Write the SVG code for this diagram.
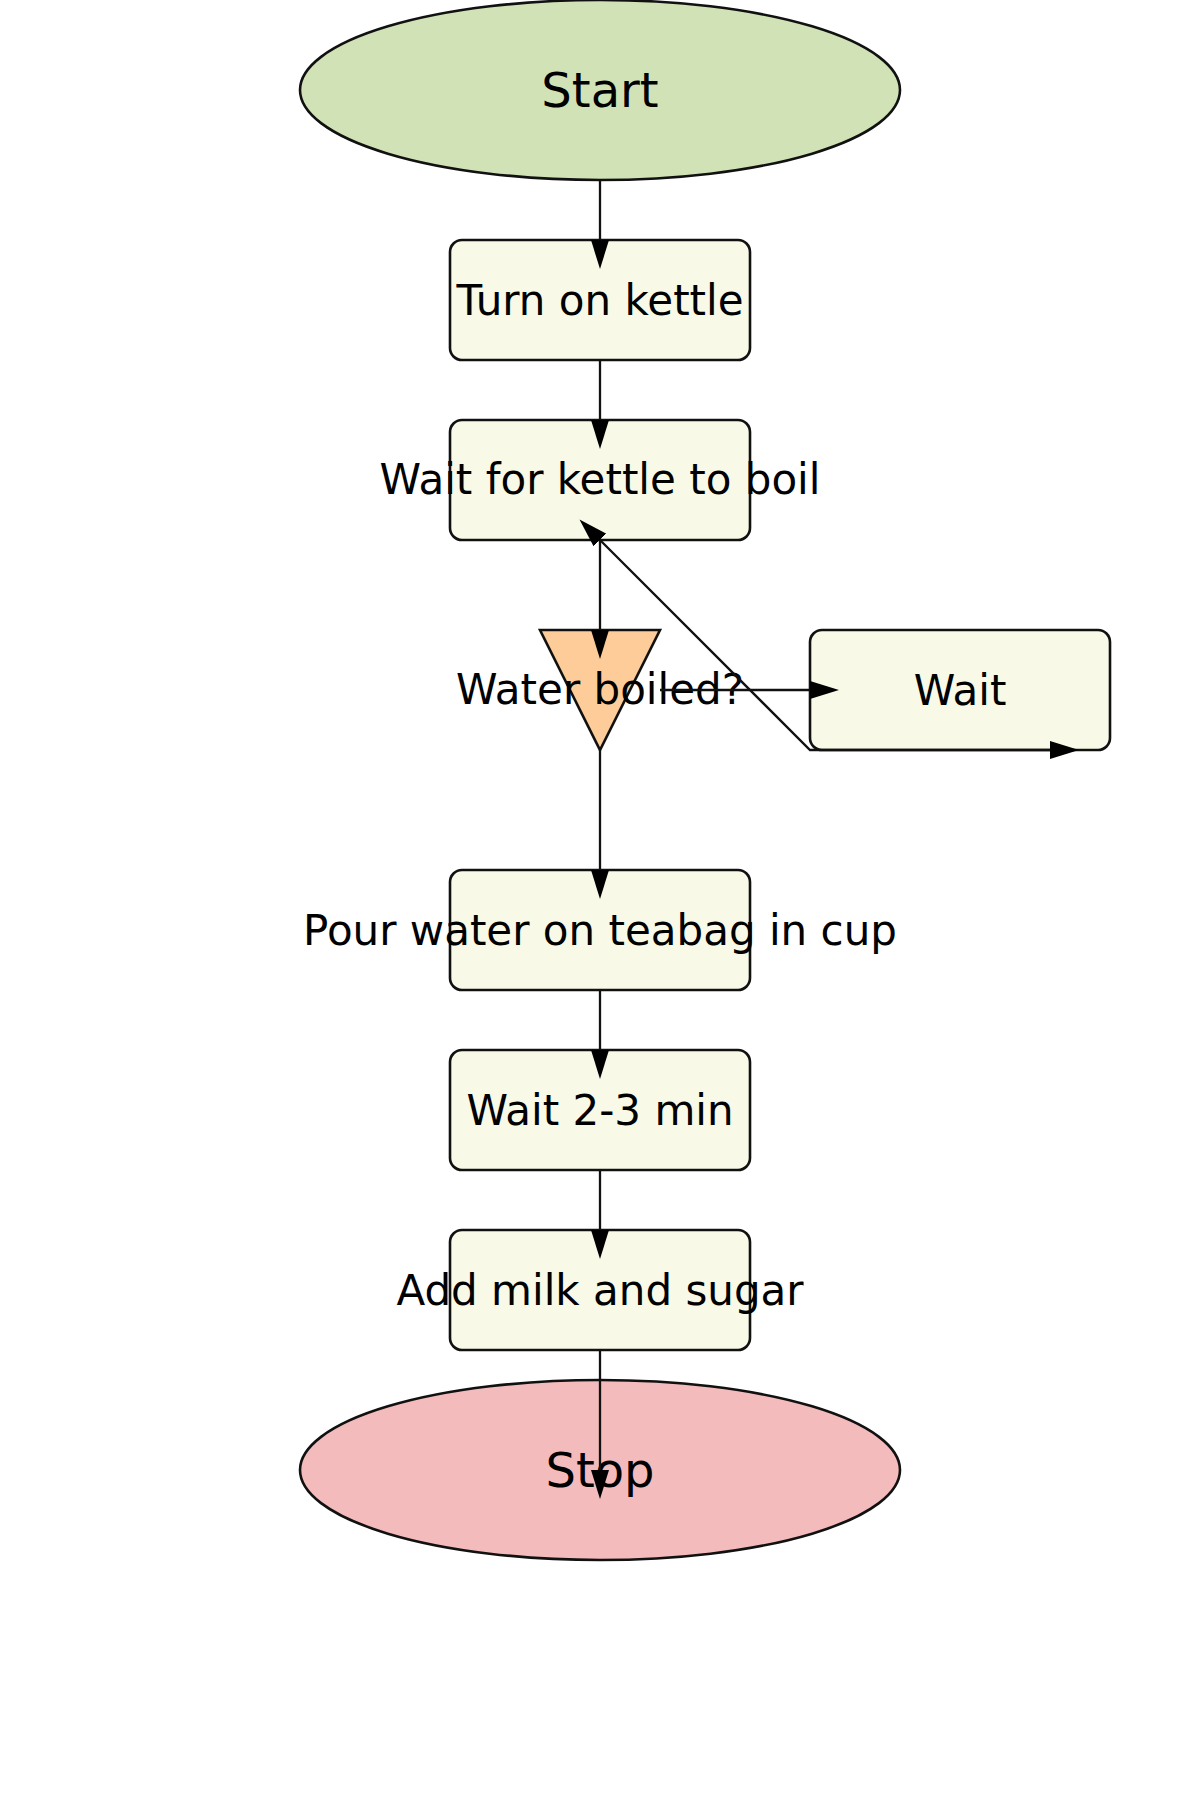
<svg xmlns="http://www.w3.org/2000/svg" width="1200" height="1800" viewBox="0 0 1200 1800">
<defs>
<style>
.box{fill:#f8f9e7;stroke:#111;stroke-width:2.6}
.lbl{font-family:"DejaVu Sans",sans-serif;font-size:42px;fill:#000;text-anchor:middle}
.big{font-size:48px}
.edge{fill:none;stroke:#111;stroke-width:2.3}
</style>
<marker id="arr" viewBox="0 0 29 18" refX="0" refY="9" markerWidth="29" markerHeight="18" markerUnits="userSpaceOnUse" orient="auto-start-reverse">
<path d="M0,0 L29,9 L0,18 Z" fill="#000"/>
</marker>
</defs>
<rect width="1200" height="1800" fill="#fff"/>
<g id="start"><ellipse cx="600" cy="90" rx="300" ry="90" fill="#d0e2b6" stroke="#111" stroke-width="2.6"/><text class="lbl big" x="600" y="107">Start</text></g>
<g id="turn-on"><rect class="box" x="450" y="240" width="300" height="120" rx="12"/><text class="lbl" x="600" y="315">Turn on kettle</text></g>
<g id="wait-boil"><rect class="box" x="450" y="420" width="300" height="120" rx="12"/><text class="lbl" x="600" y="494">Wait for kettle to boil</text></g>
<g id="decision"><polygon points="540,630 660,630 600,750" fill="#fecc99" stroke="#111" stroke-width="2.6"/><text class="lbl" x="600" y="704">Water boiled?</text></g>
<g id="wait"><rect class="box" x="810" y="630" width="300" height="120" rx="12"/><text class="lbl" x="960" y="705">Wait</text></g>
<g id="pour"><rect class="box" x="450" y="870" width="300" height="120" rx="12"/><text class="lbl" x="600" y="945">Pour water on teabag in cup</text></g>
<g id="steep"><rect class="box" x="450" y="1050" width="300" height="120" rx="12"/><text class="lbl" x="600" y="1125">Wait 2-3 min</text></g>
<g id="milk"><rect class="box" x="450" y="1230" width="300" height="120" rx="12"/><text class="lbl" x="600" y="1305">Add milk and sugar</text></g>
<g id="stop"><ellipse cx="600" cy="1470" rx="300" ry="90" fill="#f4bbbc" stroke="#111" stroke-width="2.6"/><text class="lbl big" x="600" y="1487">Stop</text></g>
<g id="connectors">
<path class="edge" d="M600,180 L600,240" marker-end="url(#arr)"/>
<path class="edge" d="M600,360 L600,420" marker-end="url(#arr)"/>
<path class="edge" d="M600,540 L600,630" marker-end="url(#arr)"/>
<path class="edge" d="M660,690 L810,690" marker-end="url(#arr)"/>
<path class="edge" d="M600,540 L810,750 L1050,750" marker-start="url(#arr)" marker-end="url(#arr)"/>
<path class="edge" d="M600,750 L600,870" marker-end="url(#arr)"/>
<path class="edge" d="M600,990 L600,1050" marker-end="url(#arr)"/>
<path class="edge" d="M600,1170 L600,1230" marker-end="url(#arr)"/>
<path class="edge" d="M600,1350 L600,1470" marker-end="url(#arr)"/>
</g>
</svg>
